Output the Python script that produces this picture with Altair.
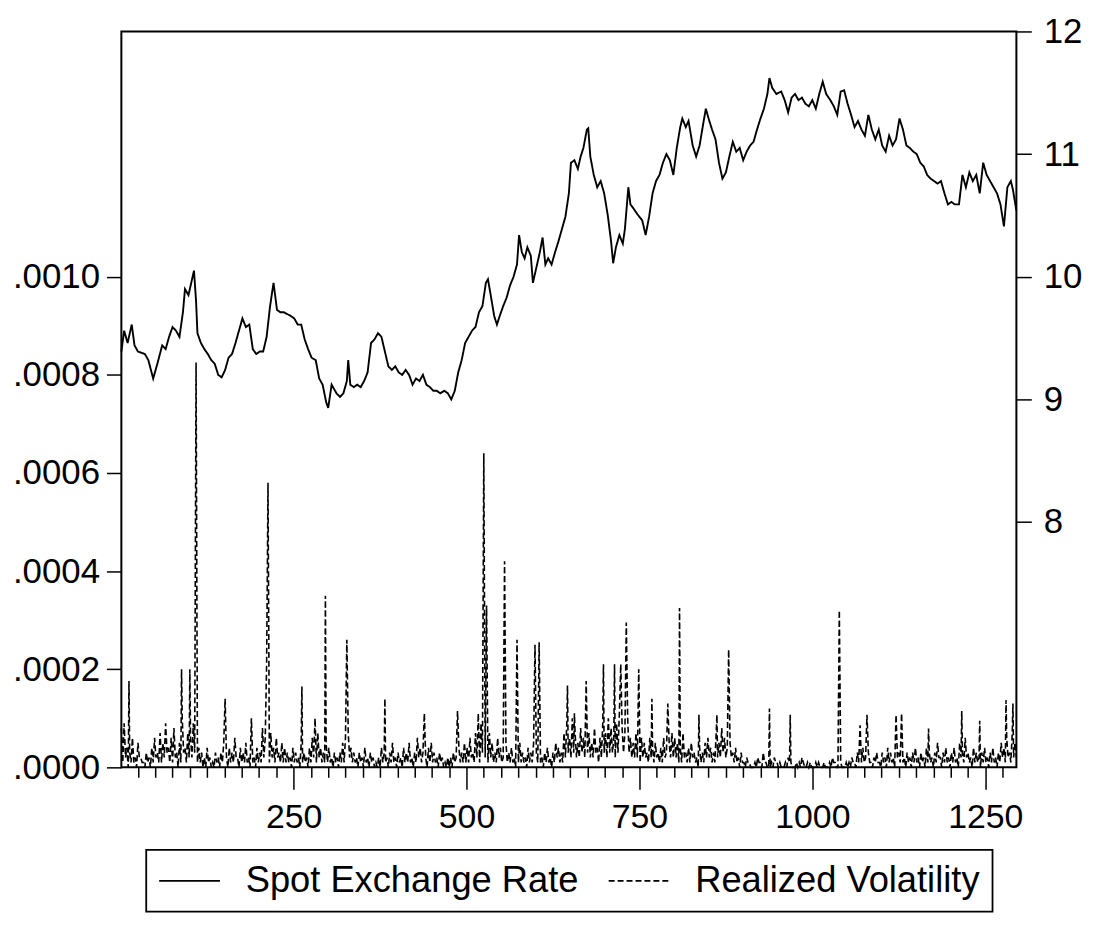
import altair as alt
import pandas as pd

# ---- Spot exchange rate (right axis) ----
spot_t = [1, 5, 10, 16, 20, 25, 35, 40, 47, 53, 60, 65, 70, 75, 80, 85, 90, 93, 98, 102,
          106, 109, 111, 116, 121, 126, 131, 136, 141, 146, 151, 156, 161, 166, 171, 176, 181, 186, 191, 196,
          201, 206, 211, 216, 221, 226, 231, 236, 246, 251, 256, 261, 266, 271, 276, 282, 287, 292, 297, 300,
          305, 312, 317, 322, 327, 329, 332, 337, 342, 347, 352, 357, 362, 367, 372, 377, 382, 387, 392, 397,
          402, 407, 412, 417, 422, 427, 432, 437, 442, 447, 452, 457, 462, 468, 473, 478, 483, 488, 493, 498,
          503, 508, 513, 518, 523, 528, 531, 535, 540, 544, 548, 553, 558, 563, 568, 573, 576, 580, 584, 588,
          593, 596, 600, 606, 610, 614, 618, 623, 628, 633, 638, 643, 648, 651, 656, 661, 665, 669, 674, 676,
          679, 684, 689, 694, 699, 704, 709, 712, 716, 721, 726, 729, 734, 737, 741, 747, 754, 759, 764, 769,
          774, 779, 784, 789, 794, 799, 804, 809, 812, 817, 821, 827, 832, 837, 842, 846, 850, 855, 860, 865,
          870, 875, 880, 885, 890, 895, 900, 905, 910, 915, 920, 925, 930, 935, 938, 942, 948, 955, 960, 965,
          970, 975, 980, 985, 990, 995, 1000, 1005, 1010, 1015, 1020, 1026, 1031, 1036, 1041, 1046, 1051, 1056, 1061, 1066,
          1071, 1076, 1081, 1086, 1091, 1096, 1101, 1106, 1111, 1116, 1121, 1126, 1131, 1136, 1141, 1146, 1151, 1156, 1161, 1166,
          1171, 1176, 1181, 1186, 1191, 1196, 1201, 1206, 1212, 1217, 1222, 1227, 1232, 1237, 1242, 1247, 1252, 1257, 1262, 1267,
          1272, 1277, 1282, 1287, 1290, 1295]
spot_v = [9.39, 9.56, 9.46, 9.61, 9.44, 9.39, 9.37, 9.32, 9.17, 9.29, 9.44, 9.41, 9.51, 9.59, 9.56, 9.51, 9.71, 9.90, 9.85, 9.95,
          10.05, 9.80, 9.54, 9.46, 9.41, 9.37, 9.32, 9.29, 9.20, 9.18, 9.24, 9.34, 9.37, 9.46, 9.56, 9.66, 9.59, 9.61, 9.41, 9.37,
          9.39, 9.39, 9.51, 9.76, 9.95, 9.73, 9.71, 9.71, 9.68, 9.66, 9.61, 9.61, 9.49, 9.41, 9.34, 9.32, 9.17, 9.12, 8.98, 8.93,
          9.12, 9.05, 9.02, 9.05, 9.15, 9.32, 9.12, 9.10, 9.12, 9.10, 9.15, 9.22, 9.46, 9.49, 9.54, 9.51, 9.39, 9.27, 9.24, 9.27,
          9.22, 9.20, 9.24, 9.20, 9.12, 9.17, 9.15, 9.20, 9.12, 9.10, 9.07, 9.07, 9.05, 9.07, 9.05, 9.00, 9.07, 9.22, 9.32, 9.46,
          9.51, 9.56, 9.59, 9.71, 9.76, 9.95, 9.98, 9.85, 9.68, 9.61, 9.68, 9.76, 9.83, 9.93, 10.00, 10.10, 10.34, 10.20, 10.15, 10.24,
          10.17, 9.95, 10.05, 10.20, 10.32, 10.10, 10.15, 10.10, 10.20, 10.29, 10.39, 10.49, 10.68, 10.93, 10.95, 10.88, 10.98, 11.05, 11.20, 11.21,
          10.98, 10.83, 10.73, 10.78, 10.68, 10.51, 10.29, 10.11, 10.24, 10.34, 10.27, 10.39, 10.73, 10.59, 10.56, 10.51, 10.46, 10.34, 10.49, 10.68,
          10.78, 10.83, 10.93, 11.00, 10.95, 10.83, 11.05, 11.22, 11.29, 11.22, 11.27, 11.07, 10.98, 11.07, 11.24, 11.37, 11.29, 11.20, 11.12, 10.93,
          10.80, 10.85, 10.98, 11.10, 11.02, 11.05, 10.95, 11.02, 11.07, 11.10, 11.20, 11.29, 11.37, 11.49, 11.62, 11.54, 11.49, 11.51, 11.44, 11.34,
          11.46, 11.49, 11.44, 11.46, 11.41, 11.39, 11.44, 11.37, 11.49, 11.59, 11.49, 11.44, 11.39, 11.32, 11.51, 11.52, 11.41, 11.32, 11.22, 11.27,
          11.20, 11.15, 11.32, 11.20, 11.12, 11.20, 11.07, 11.02, 11.15, 11.07, 11.12, 11.29, 11.20, 11.07, 11.05, 11.02, 11.00, 10.93, 10.90, 10.83,
          10.80, 10.78, 10.76, 10.78, 10.68, 10.59, 10.61, 10.59, 10.59, 10.83, 10.73, 10.85, 10.78, 10.83, 10.68, 10.93, 10.83, 10.78, 10.73, 10.68,
          10.59, 10.41, 10.73, 10.78, 10.71, 10.54]

# ---- Realized volatility (left axis), in units of 1e-5 ----
# readings at observations 1, 5, 9, ... (vol_a) and 3, 7, 11, ... (vol_b)
vol_a = [8, 9, 4, 3, 6, 2, 5, 2, 1, 3, 2, 4, 6, 3, 7, 5, 9, 4, 6, 8, 3, 5, 10, 4, 7,
         6, 9, 7, 4, 3, 2, 4, 2, 1, 3, 2, 3, 5, 2, 4, 3, 6, 2, 4, 3, 5, 2, 3, 2, 4,
         3, 8, 6, 5, 7, 4, 6, 3, 5, 4, 3, 2, 4, 3, 2, 5, 3, 2, 4, 6, 3, 7, 4, 3, 5,
         4, 2, 3, 2, 3, 5, 6, 7, 4, 3, 2, 3, 2, 4, 2, 3, 2, 1, 2, 4, 3, 2, 3, 5, 2,
         3, 2, 4, 3, 5, 2, 3, 6, 4, 3, 2, 4, 5, 3, 2, 3, 2, 1, 2, 2, 3, 2, 4, 3, 5,
         4, 6, 3, 7, 5, 9, 6, 4, 7, 5, 3, 6, 4, 2, 5, 3, 4, 2, 3, 5, 3, 2, 4, 3, 5,
         3, 4, 2, 3, 4, 2, 3, 5, 4, 3, 7, 9, 6, 10, 7, 5, 8, 6, 9, 7, 5, 8, 4, 6, 9,
         7, 10, 8, 6, 9, 11, 8, 7, 10, 6, 5, 7, 4, 6, 5, 3, 6, 4, 5, 3, 4, 6, 3, 5, 7,
         6, 5, 4, 7, 3, 4, 5, 3, 2, 4, 3, 5, 6, 4, 3, 7, 5, 8, 6, 4, 5, 3, 4, 2, 3,
         1, 2, 1, 0, 1, 2, 1, 3, 1, 0, 1, 2, 1, 1, 0, 1, 2, 1, 0, 1, 1, 2, 0, 1, 1,
         0, 1, 1, 0, 1, 0, 1, 2, 1, 0, 1, 0, 1, 1, 2, 1, 3, 2, 4, 2, 3, 1, 2, 3, 1,
         3, 2, 4, 3, 2, 5, 3, 4, 2, 3, 2, 3, 4, 2, 3, 2, 4, 3, 2, 3, 5, 2, 3, 4, 2,
         3, 4, 2, 5, 3, 6, 3, 2, 4, 3, 2, 3, 4, 2, 3, 4, 2, 3, 5, 4, 6, 3, 7, 5]
vol_b = [1, 2, 0, 1, 1, 0, 2, 1, 0, 1, 0, 1, 2, 1, 1, 2, 3, 1, 1, 2, 0, 1, 3, 1, 2,
         2, 3, 1, 1, 0, 0, 1, 0, 0, 1, 0, 1, 1, 0, 1, 1, 2, 0, 1, 1, 1, 0, 1, 0, 1,
         1, 2, 2, 1, 2, 1, 2, 1, 1, 1, 1, 0, 1, 1, 0, 1, 1, 0, 1, 2, 1, 2, 1, 1, 1,
         1, 0, 1, 0, 1, 1, 2, 2, 1, 1, 0, 1, 0, 1, 0, 1, 0, 0, 0, 1, 1, 0, 1, 1, 0,
         1, 0, 1, 1, 1, 0, 1, 2, 1, 1, 0, 1, 1, 1, 0, 1, 0, 0, 0, 0, 1, 0, 1, 1, 1,
         1, 2, 1, 2, 1, 3, 2, 1, 2, 1, 1, 2, 1, 0, 1, 1, 1, 0, 1, 1, 1, 0, 1, 1, 1,
         1, 1, 0, 1, 1, 0, 1, 2, 1, 1, 2, 3, 2, 3, 2, 2, 3, 2, 3, 2, 2, 3, 1, 2, 3,
         2, 3, 3, 2, 3, 4, 3, 2, 3, 2, 2, 2, 1, 2, 2, 1, 2, 1, 2, 1, 1, 2, 1, 2, 2,
         2, 1, 1, 2, 1, 1, 2, 1, 0, 1, 1, 2, 2, 1, 1, 2, 2, 3, 2, 1, 2, 1, 1, 0, 1,
         0, 1, 0, 0, 0, 1, 0, 1, 0, 0, 0, 1, 0, 0, 0, 0, 1, 0, 0, 0, 0, 1, 0, 0, 0,
         0, 0, 0, 0, 0, 0, 0, 1, 0, 0, 0, 0, 0, 0, 1, 0, 1, 1, 1, 1, 1, 0, 1, 1, 0,
         1, 0, 1, 1, 0, 2, 1, 1, 0, 1, 0, 1, 1, 0, 1, 0, 1, 1, 0, 1, 2, 0, 1, 1, 0,
         1, 1, 0, 2, 1, 2, 1, 0, 1, 1, 0, 1, 1, 0, 1, 1, 0, 1, 2, 1, 2, 1, 2, 2]
spike_t = [12, 88, 100, 109, 151, 189, 211, 213, 262, 281, 296, 327, 382, 439, 487, 517, 525, 529, 555, 573,
           599, 605, 646, 656, 673, 698, 714, 723, 731, 749, 768, 791, 808, 836, 862, 879, 938, 968, 1039, 1069,
           1079, 1121, 1129, 1168, 1216, 1242, 1280, 1290]
spike_v = [17.6, 20, 20, 82.5, 14, 10, 21, 58, 16.5, 10, 35, 26, 14, 11, 11.5, 11, 64, 33, 42, 26,
           25, 25.5, 16.7, 11, 17.6, 21, 21, 21, 29.5, 20, 14, 13, 32.5, 10.7, 10.7, 24, 12, 10.7, 32, 8.6,
           10.7, 10.7, 11, 7.9, 11.5, 9.5, 13.7, 13]

series_names = ["Spot Exchange Rate", "Realized Volatility"]
x_ticks = list(range(25, 1276, 25))
left_ticks = [0, 0.0002, 0.0004, 0.0006, 0.0008, 0.0010]
right_ticks = [8, 9, 10, 11, 12]

vol = {}
for i, v in enumerate(vol_a):
    vol[1 + 4 * i] = v
for i, v in enumerate(vol_b):
    vol[3 + 4 * i] = v
for t, v in zip(spike_t, spike_v):
    vol[t] = v
vol_df = pd.DataFrame(sorted(vol.items()), columns=["t", "v"])
vol_df["v"] = vol_df["v"] * 1e-5
vol_df["series"] = series_names[1]

spot_df = pd.DataFrame({"t": spot_t, "v": spot_v, "series": series_names[0]})

FONT = "Liberation Sans"
AX_FS = 34

x_enc = alt.X(
    "t:Q",
    scale=alt.Scale(domain=[1, 1295], nice=False, zero=False),
    axis=alt.Axis(
        values=x_ticks,
        labelExpr="datum.value % 250 === 0 ? format(datum.value, 'd') : ''",
        tickSize={"condition": {"test": "datum.value % 250 === 0", "value": 22}, "value": 10},
        labelPadding=11,
        labelOverlap=False,
        labelFlush=False,
        grid=False,
        domain=False,
        title=None,
        labelFontSize=AX_FS,
    ),
)

dash_enc = alt.StrokeDash(
    "series:N",
    scale=alt.Scale(domain=series_names, range=[[1, 0], [6, 3]]),
    legend=alt.Legend(
        orient="none",
        legendX=25,
        legendY=823,
        direction="horizontal",
        title=None,
        symbolType="M -1 0 L 2.4 0",
        symbolSize=1296,
        symbolStrokeWidth=1.8,
        symbolStrokeColor="black",
        labelFontSize=36.5,
        labelFont=FONT,
        labelColor="black",
        labelOffset=50,
        labelLimit=0,
        columnPadding=26,
        padding=12,
        strokeColor="black",
    ),
)

vol_layer = alt.Chart(vol_df).mark_line(color="black", strokeWidth=1.6).encode(
    x=x_enc,
    y=alt.Y(
        "v:Q",
        scale=alt.Scale(domain=[0, 0.0015], nice=False, zero=True),
        axis=alt.Axis(
            orient="left",
            values=left_ticks,
            labelExpr="substring(format(datum.value, '.4f'), 1)",
            tickSize=15,
            labelPadding=7,
            labelOverlap=False,
            grid=False,
            domain=False,
            title=None,
            labelFontSize=35,
        ),
    ),
    strokeDash=dash_enc,
)

spot_layer = alt.Chart(spot_df).mark_line(color="black", strokeWidth=1.9).encode(
    x=x_enc,
    y=alt.Y(
        "v:Q",
        scale=alt.Scale(domain=[6, 12], nice=False, zero=False),
        axis=alt.Axis(
            orient="right",
            values=right_ticks,
            tickSize=15,
            labelPadding=12,
            labelOverlap=False,
            grid=False,
            domain=False,
            title=None,
            labelFontSize=35,
        ),
    ),
    strokeDash=dash_enc,
)

chart = (
    alt.layer(vol_layer, spot_layer)
    .resolve_scale(y="independent")
    .properties(
        width=900,
        height=740,
        padding={"left": 114, "top": 21, "right": 70, "bottom": 165},
        autosize=alt.AutoSizeParams(type="none"),
    )
    .configure(font=FONT)
    .configure_view(stroke="black", strokeWidth=2)
    .configure_axis(
        labelFont=FONT,
        labelColor="black",
        tickColor="black",
        tickWidth=1.5,
    )
    .configure_legend(strokeWidth=1.8)
)

chart.save("out.html", embed_options={"renderer": "svg", "actions": False})
